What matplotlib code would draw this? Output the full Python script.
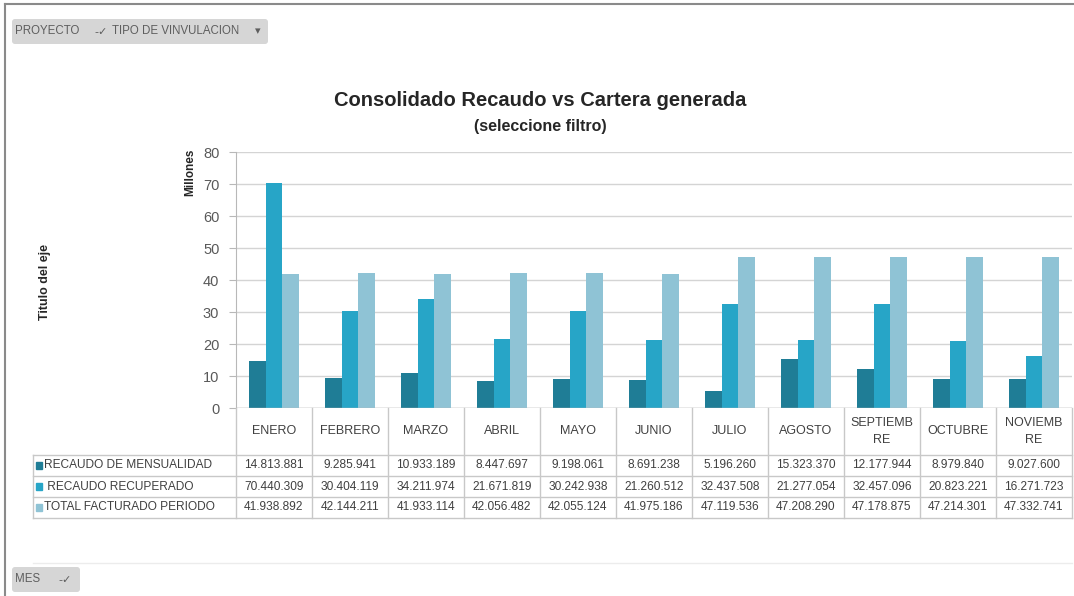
import matplotlib.pyplot as plt
import numpy as np
from matplotlib.patches import FancyBboxPatch, Rectangle
from matplotlib.lines import Line2D

meses = ["ENERO", "FEBRERO", "MARZO", "ABRIL", "MAYO", "JUNIO", "JULIO",
         "AGOSTO", "SEPTIEMB\nRE", "OCTUBRE", "NOVIEMB\nRE"]
recaudo_mensualidad = [14813881, 9285941, 10933189, 8447697, 9198061, 8691238,
                       5196260, 15323370, 12177944, 8979840, 9027600]
recaudo_recuperado = [70440309, 30404119, 34211974, 21671819, 30242938, 21260512,
                      32437508, 21277054, 32457096, 20823221, 16271723]
total_facturado = [41938892, 42144211, 41933114, 42056482, 42055124, 41975186,
                   47119536, 47208290, 47178875, 47214301, 47332741]
nombres = ["RECAUDO DE MENSUALIDAD", " RECAUDO RECUPERADO", "TOTAL FACTURADO PERIODO"]
colores = ["#1f7d96", "#27a5c7", "#8fc3d5"]

W, H = 1074, 596
fig = plt.figure(figsize=(W / 100, H / 100), dpi=100)
fig.patch.set_facecolor("white")
plt.rcParams['font.family'] = ['Liberation Sans', 'DejaVu Sans']


def fx(px):
    return px / W


def fy(py):
    return 1 - py / H


# layout in pixels
L, R, TOP, BASE = 236, 1072, 152, 408
TAB_L = 33
rows_y = [455, 476, 497, 518]
colw = (R - L) / len(meses)

# chart
ax = fig.add_axes([fx(L), fy(BASE), fx(R) - fx(L), fy(TOP) - fy(BASE)])
x = np.arange(len(meses))
w = 0.22
series = [recaudo_mensualidad, recaudo_recuperado, total_facturado]
for k, (vals, c) in enumerate(zip(series, colores)):
    ax.bar(x + (k - 1) * w, np.array(vals) / 1e6, width=w, color=c, zorder=3)
ax.set_xlim(-0.5, len(meses) - 0.5)
ax.set_ylim(0, 80)
ax.set_yticks(range(0, 81, 10))
ax.set_xticks([])
ax.yaxis.grid(True, color="#d4d4d4", lw=1, zorder=0)
for s in ["top", "right", "bottom"]:
    ax.spines[s].set_visible(False)
ax.spines["left"].set_color("#b8b8b8")
ax.tick_params(axis="y", length=5, color="#b8b8b8", labelcolor="#595959",
               labelsize=10.5, pad=7)
ax.axhline(0, color="#b8b8b8", lw=1, zorder=4)

fig.text(fx(190), fy(172), "Millones", rotation=90, ha="center", va="center",
         fontsize=8.5, fontweight="bold", color="#262626")
fig.text(fx(45), fy(282), "Titulo del eje", rotation=90, ha="center", va="center",
         fontsize=9, fontweight="bold", color="#262626")
fig.text(fx(540), fy(100), "Consolidado Recaudo vs Cartera generada", ha="center",
         va="center", fontsize=14.5, fontweight="bold", color="#262626")
fig.text(fx(540), fy(127), "(seleccione filtro)", ha="center", va="center",
         fontsize=11.5, fontweight="bold", color="#262626")

# data table
tab = fig.add_axes([0, 0, 1, 1])
tab.set_xlim(0, W)
tab.set_ylim(H, 0)
tab.axis("off")
lc = "#c8c8c8"
for i in range(len(meses) + 1):
    xx = L + i * colw
    tab.add_line(Line2D([xx, xx], [BASE, rows_y[-1]], color=lc, lw=1))
tab.add_line(Line2D([TAB_L, TAB_L], [rows_y[0], rows_y[-1]], color=lc, lw=1))
for yy in rows_y:
    tab.add_line(Line2D([TAB_L, R], [yy, yy], color=lc, lw=1))

for i, m in enumerate(meses):
    tab.text(L + (i + 0.5) * colw, (BASE + rows_y[0]) / 2, m, ha="center",
             va="center", fontsize=9, color="#404040", linespacing=1.6)

for r, (nombre, vals, c) in enumerate(zip(nombres, series, colores)):
    yc = (rows_y[r] + rows_y[r + 1]) / 2
    tab.add_patch(Rectangle((TAB_L + 3, yc - 3.5), 6, 7, color=c))
    tab.text(TAB_L + 11, yc, nombre, ha="left", va="center", fontsize=8.6,
             color="#404040")
    for i, v in enumerate(vals):
        tab.text(L + (i + 0.5) * colw, yc, f"{v:,}".replace(",", "."),
                 ha="center", va="center", fontsize=8.6, color="#404040")

# frame and field buttons
tab.add_line(Line2D([5, W], [4, 4], color="#8a8a8a", lw=1.5))
tab.add_line(Line2D([5, 5], [4, H], color="#8a8a8a", lw=1.5))
tab.add_line(Line2D([TAB_L, R], [563, 563], color="#ececec", lw=1))

btn = "#5e5e5e"
tab.add_patch(FancyBboxPatch((12, 19), 256, 25, boxstyle="round,pad=0,rounding_size=3",
                             fc="#d6d6d6", ec="none"))
tab.text(15, 31.5, "PROYECTO", fontsize=8.3, color=btn, va="center")
tab.text(94, 31.5, "-✓", fontsize=8, color=btn, va="center",
         family=["DejaVu Sans"])
tab.text(112, 31.5, "TIPO DE VINVULACION", fontsize=8.3, color=btn, va="center")
tab.text(255, 31.5, "▾", fontsize=8, color=btn, va="center",
         family=["DejaVu Sans"])

tab.add_patch(FancyBboxPatch((12, 567), 68, 25, boxstyle="round,pad=0,rounding_size=3",
                             fc="#d6d6d6", ec="none"))
tab.text(15, 579.5, "MES", fontsize=8.3, color=btn, va="center")
tab.text(58, 579.5, "-✓", fontsize=8, color=btn, va="center",
         family=["DejaVu Sans"])

fig.savefig("out.png", dpi=100)
